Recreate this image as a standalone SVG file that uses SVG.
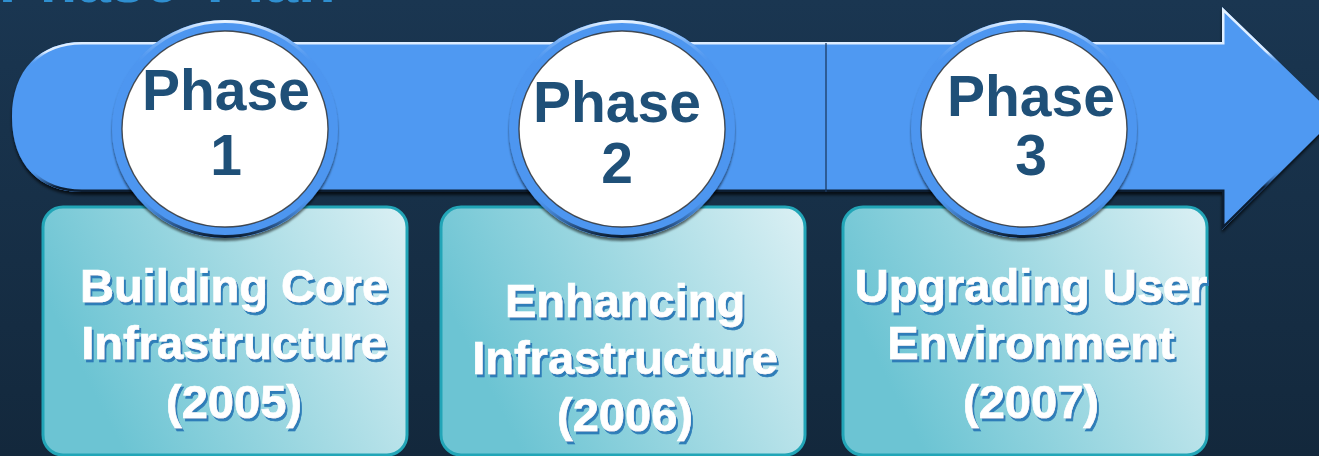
<svg xmlns="http://www.w3.org/2000/svg" width="1319" height="456" viewBox="0 0 1319 456">
  <defs>
    <linearGradient id="bg" x1="0" y1="0" x2="0" y2="1">
      <stop offset="0" stop-color="#1a3651"/>
      <stop offset="1" stop-color="#13283c"/>
    </linearGradient>
    <linearGradient id="arrowEdge" gradientUnits="userSpaceOnUse" x1="0" y1="7" x2="0" y2="232">
      <stop offset="0" stop-color="#e6f2ff"/>
      <stop offset="0.2" stop-color="#dcecff"/>
      <stop offset="0.26" stop-color="#5099f2" stop-opacity="0"/>
      <stop offset="0.72" stop-color="#5099f2" stop-opacity="0"/>
      <stop offset="0.8" stop-color="#0c1e33"/>
      <stop offset="1" stop-color="#0c1e33"/>
    </linearGradient>
    <linearGradient id="ringEdge" x1="0" y1="0" x2="0" y2="1">
      <stop offset="0" stop-color="#e6f2ff"/>
      <stop offset="0.2" stop-color="#5099f2" stop-opacity="0"/>
      <stop offset="0.8" stop-color="#5099f2" stop-opacity="0"/>
      <stop offset="1" stop-color="#0c1e33"/>
    </linearGradient>
    <linearGradient id="boxFill" x1="0" y1="0.35" x2="1" y2="0">
      <stop offset="0" stop-color="#6cc4d3"/>
      <stop offset="0.5" stop-color="#a3dae3"/>
      <stop offset="1" stop-color="#dbf0f4"/>
    </linearGradient>
    <clipPath id="arrowClip">
      <path d="M82,42 H1222 V7 L1336,117 L1222,230 V192 H82 C40,192 12,165 12,117 C12,70 40,42 82,42 Z"/>
    </clipPath>
    <filter id="shadow" x="-10%" y="-10%" width="120%" height="130%">
      <feDropShadow dx="0" dy="3" stdDeviation="1.6" flood-color="#000" flood-opacity="0.7"/>
    </filter>
    <filter id="ringShadow" x="-10%" y="-10%" width="120%" height="130%">
      <feDropShadow dx="0" dy="3" stdDeviation="1" flood-color="#000" flood-opacity="0.55"/>
    </filter>
    <filter id="txtShadow" x="-5%" y="-20%" width="110%" height="140%">
      <feDropShadow dx="2" dy="3" stdDeviation="0.4" flood-color="#2e7db8" flood-opacity="1"/>
    </filter>
  </defs>
  <style>
    .title { font-family: "Liberation Sans", Arial, sans-serif; font-weight: bold; font-size: 61px; fill: #2f8fd0; word-spacing: 11px; }
    .phase { font-family: "Liberation Sans", Arial, sans-serif; font-weight: bold; font-size: 57px; fill: #1f5078; text-anchor: middle; }
    .box { fill: url(#boxFill); stroke: #22a5b7; stroke-width: 3; }
    .boxtxt { font-family: "Liberation Sans", Arial, sans-serif; font-weight: bold; font-size: 47px; fill: #ffffff; stroke: #ffffff; stroke-width: 0.7; text-anchor: middle; filter: url(#txtShadow); }
    .ring { fill: #4e96f0; filter: url(#ringShadow); }
    .ringEdge { fill: none; stroke: url(#ringEdge); stroke-width: 3; }
    .disc { fill: #ffffff; stroke: #2b2b2b; stroke-width: 1.4; stroke-opacity: 0.8; }
  </style>

  <rect x="0" y="0" width="1319" height="456" fill="url(#bg)"/>
  <text class="title" x="-1" y="2">Phase Plan</text>

  <g id="connectors">
    <g id="timeline-arrow">
      <path d="M82,42 H1222 V7 L1336,117 L1222,230 V192 H82 C40,192 12,165 12,117 C12,70 40,42 82,42 Z" fill="#5099f2" filter="url(#shadow)"/>
      <path d="M82,42 H1222 V7 L1336,117 L1222,230 V192 H82 C40,192 12,165 12,117 C12,70 40,42 82,42 Z" fill="none" stroke="url(#arrowEdge)" stroke-width="5" clip-path="url(#arrowClip)"/>
      <line x1="826" y1="43" x2="826" y2="192" stroke="#1c3c64" stroke-width="1.3"/>
    </g>
  </g>

  <g id="phase1">
    <rect class="box" x="43" y="207" width="364" height="248" rx="20"/>
    <ellipse class="ring" cx="225" cy="129" rx="113" ry="109"/>
    <ellipse class="ringEdge" cx="225" cy="129" rx="111.5" ry="107.5"/>
    <ellipse class="disc" cx="225" cy="129" rx="103" ry="98"/>
    <text class="phase" x="226" y="110">Phase</text>
    <text class="phase" x="226" y="175">1</text>
    <text class="boxtxt" x="234" y="302">Building Core</text>
    <text class="boxtxt" x="234" y="359">Infrastructure</text>
    <text class="boxtxt" x="234" y="418">(2005)</text>
  </g>

  <g id="phase2">
    <rect class="box" x="441" y="207" width="364" height="248" rx="20"/>
    <ellipse class="ring" cx="622" cy="129" rx="113" ry="109"/>
    <ellipse class="ringEdge" cx="622" cy="129" rx="111.5" ry="107.5"/>
    <ellipse class="disc" cx="622" cy="129" rx="103" ry="98"/>
    <text class="phase" x="617" y="122">Phase</text>
    <text class="phase" x="617" y="183">2</text>
    <text class="boxtxt" x="625" y="317">Enhancing</text>
    <text class="boxtxt" x="625" y="374">Infrastructure</text>
    <text class="boxtxt" x="625" y="431">(2006)</text>
  </g>

  <g id="phase3">
    <rect class="box" x="843" y="207" width="364" height="248" rx="20"/>
    <ellipse class="ring" cx="1024" cy="129" rx="113" ry="109"/>
    <ellipse class="ringEdge" cx="1024" cy="129" rx="111.5" ry="107.5"/>
    <ellipse class="disc" cx="1024" cy="129" rx="103" ry="98"/>
    <text class="phase" x="1031" y="116">Phase</text>
    <text class="phase" x="1031" y="175">3</text>
    <text class="boxtxt" x="1031" y="302">Upgrading User</text>
    <text class="boxtxt" x="1031" y="359">Environment</text>
    <text class="boxtxt" x="1031" y="418">(2007)</text>
  </g>
</svg>
